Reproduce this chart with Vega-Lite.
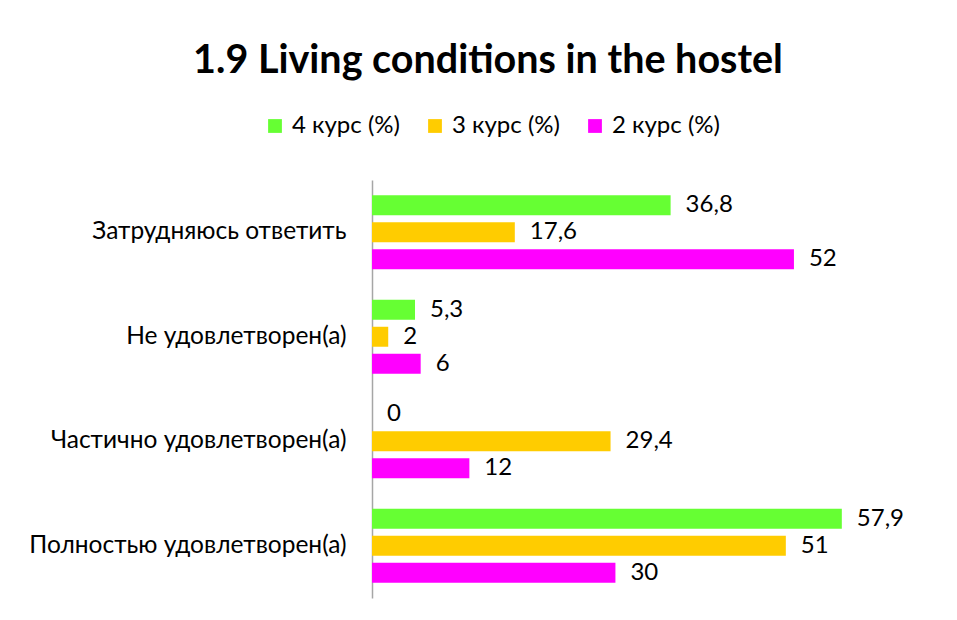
{
  "$schema": "https://vega.github.io/schema/vega-lite/v6.json",
  "autosize": {"type": "none"},
  "width": 568,
  "height": 418,
  "padding": {"left": 372, "top": 180, "right": 17, "bottom": 22},
  "background": "white",
  "title": {
    "text": "1.9 Living conditions in the hostel",
    "font": "Lato",
    "fontSize": 39.5,
    "fontWeight": "bold",
    "color": "black",
    "anchor": "middle",
    "frame": "group",
    "dx": -168,
    "offset": 33
  },
  "data": {
    "values": [
      {"cat": "Затрудняюсь ответить", "course": "4 курс (%)", "value": 36.8},
      {"cat": "Затрудняюсь ответить", "course": "3 курс (%)", "value": 17.6},
      {"cat": "Затрудняюсь ответить", "course": "2 курс (%)", "value": 52},
      {"cat": "Не удовлетворен(а)", "course": "4 курс (%)", "value": 5.3},
      {"cat": "Не удовлетворен(а)", "course": "3 курс (%)", "value": 2},
      {"cat": "Не удовлетворен(а)", "course": "2 курс (%)", "value": 6},
      {"cat": "Частично удовлетворен(а)", "course": "4 курс (%)", "value": 0},
      {"cat": "Частично удовлетворен(а)", "course": "3 курс (%)", "value": 29.4},
      {"cat": "Частично удовлетворен(а)", "course": "2 курс (%)", "value": 12},
      {"cat": "Полностью удовлетворен(а)", "course": "4 курс (%)", "value": 57.9},
      {"cat": "Полностью удовлетворен(а)", "course": "3 курс (%)", "value": 51},
      {"cat": "Полностью удовлетворен(а)", "course": "2 курс (%)", "value": 30}
    ]
  },
  "encoding": {
    "y": {
      "field": "cat",
      "type": "nominal",
      "sort": ["Затрудняюсь ответить", "Не удовлетворен(а)", "Частично удовлетворен(а)", "Полностью удовлетворен(а)"],
      "scale": {"paddingInner": 0.225, "paddingOuter": 0.1125},
      "axis": {
        "title": null,
        "ticks": false,
        "grid": false,
        "domain": true,
        "domainColor": "#A6A6A6",
        "domainWidth": 1.5,
        "labelFont": "Lato",
        "labelFontSize": 24.5,
        "labelColor": "black",
        "labelPadding": 26,
        "labelLimit": 400
      }
    },
    "yOffset": {
      "field": "course",
      "type": "nominal",
      "sort": ["4 курс (%)", "3 курс (%)", "2 курс (%)"],
      "scale": {"paddingInner": 0.26, "paddingOuter": 0.13}
    },
    "x": {
      "field": "value",
      "type": "quantitative",
      "scale": {"domain": [0, 70], "nice": false},
      "axis": null
    }
  },
  "layer": [
    {
      "mark": {"type": "bar"},
      "encoding": {
        "color": {
          "field": "course",
          "type": "nominal",
          "sort": ["4 курс (%)", "3 курс (%)", "2 курс (%)"],
          "scale": {"domain": ["4 курс (%)", "3 курс (%)", "2 курс (%)"], "range": ["#66FF33", "#FFCC00", "#FF00FF"]},
          "legend": {
            "title": null,
            "orient": "none",
            "direction": "horizontal",
            "legendX": -109,
            "legendY": -66,
            "symbolType": "square",
            "symbolSize": 190,
            "symbolStrokeWidth": 0,
            "labelFont": "Lato",
            "labelFontSize": 24,
            "labelColor": "black",
            "labelOffset": 5,
            "columnPadding": 23
          }
        }
      }
    },
    {
      "mark": {"type": "text", "align": "left", "baseline": "middle", "dx": 15, "font": "Lato", "fontSize": 24, "color": "black"},
      "encoding": {
        "text": {"field": "value", "type": "quantitative", "format": ".1~f"}
      }
    }
  ],
  "config": {
    "view": {"stroke": null},
    "locale": {"number": {"decimal": ",", "thousands": " ", "grouping": [3], "currency": ["", ""]}}
  }
}
